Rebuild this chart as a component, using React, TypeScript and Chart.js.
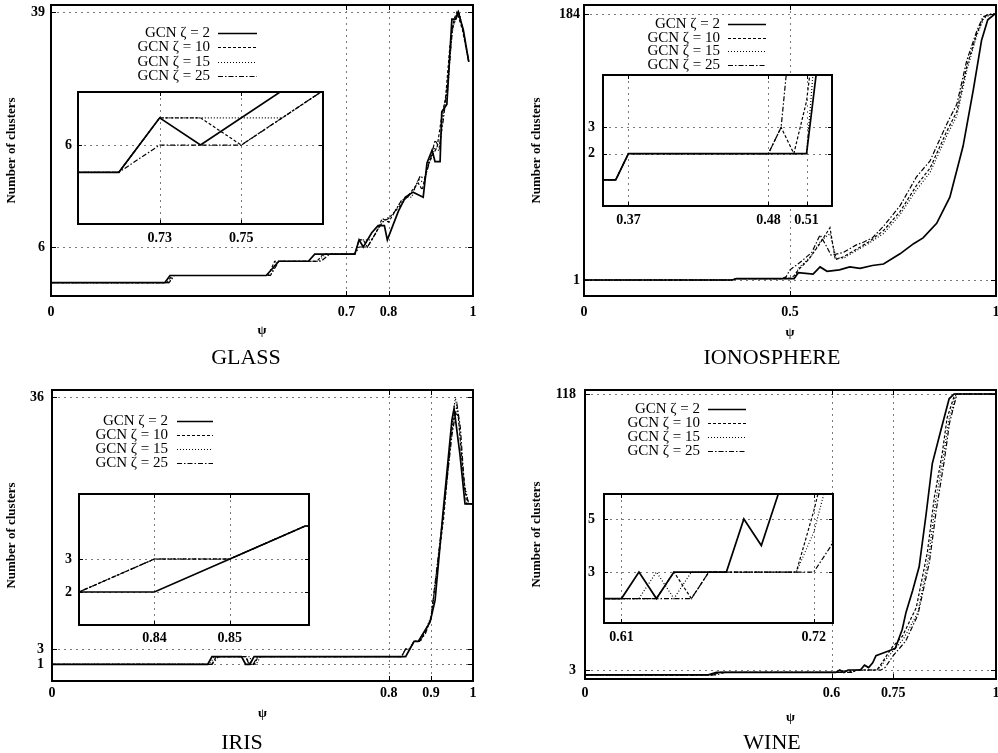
import React, { useEffect, useRef } from "react";
import { Chart, registerables } from "chart.js";

Chart.register(...registerables);

const FONT = '"Liberation Serif", "Times New Roman", Times, serif';
const SERIES_LABELS = ["GCN ζ = 2", "GCN ζ = 10", "GCN ζ = 15", "GCN ζ = 25"];
const DASHES = [[], [3, 2], [1, 2], [5, 2, 1.5, 2]];
const WIDTHS = [1.7, 1.2, 1.2, 1.2];

// ---------- GLASS ----------
const glassX2 = [0, 0.27, 0.282, 0.51, 0.54, 0.61, 0.625, 0.71, 0.72, 0.73, 0.74, 0.76, 0.775, 0.79, 0.797, 0.81, 0.823, 0.84, 0.858, 0.882, 0.891, 0.903, 0.91, 0.922, 0.926, 0.938, 0.95, 0.958, 0.965, 0.977, 0.99];
const glassY2 = [1, 1, 2, 2, 4, 4, 5, 5, 5, 7, 6, 8, 9, 9, 7, 9, 11, 13, 13.7, 13, 17.8, 19.6, 18, 18, 25, 26, 38, 38, 39, 36.5, 32];
const glassX10 = [0, 0.275, 0.287, 0.515, 0.53, 0.63, 0.645, 0.71, 0.72, 0.73, 0.74, 0.75, 0.77, 0.785, 0.8, 0.815, 0.83, 0.85, 0.87, 0.88, 0.89, 0.905, 0.915, 0.925, 0.935, 0.945, 0.955, 0.962, 0.975, 0.99];
const glassY10 = [1, 1, 2, 2, 4, 4, 5, 5, 5, 7, 7, 6, 8, 10, 9.5, 11, 12, 13.5, 15, 14, 17, 19, 20, 24, 27, 34, 38, 39, 36.5, 32];
const glassX15 = [0, 0.28, 0.29, 0.52, 0.535, 0.635, 0.65, 0.71, 0.72, 0.73, 0.76, 0.77, 0.78, 0.795, 0.81, 0.825, 0.84, 0.855, 0.87, 0.885, 0.895, 0.91, 0.92, 0.93, 0.94, 0.95, 0.96, 0.967, 0.978, 0.99];
const glassY15 = [1, 1, 2, 2, 4, 4, 5, 5, 5, 7, 7, 8, 9, 10, 10.5, 12, 13, 13, 15.5, 15, 18, 20, 19.5, 25, 28, 36, 38.5, 39, 36, 32];
const glassX25 = [0, 0.28, 0.292, 0.52, 0.54, 0.64, 0.66, 0.71, 0.72, 0.73, 0.75, 0.77, 0.785, 0.8, 0.815, 0.83, 0.845, 0.86, 0.875, 0.885, 0.9, 0.91, 0.92, 0.93, 0.94, 0.952, 0.96, 0.966, 0.978, 0.99];
const glassY25 = [1, 1, 2, 2, 4, 4, 5, 5, 5, 6, 6, 8, 9.5, 10, 11, 12.5, 13, 14, 16, 15.5, 18.5, 21, 20, 24, 29, 37, 38, 39, 36, 32];

// ---------- IONOSPHERE ----------
const ionX2 = [0, 0.36, 0.37, 0.51, 0.52, 0.556, 0.573, 0.59, 0.62, 0.645, 0.67, 0.7, 0.727, 0.767, 0.8, 0.823, 0.856, 0.888, 0.92, 0.945, 0.965, 0.98, 0.997, 1];
const ionY2 = [1, 1, 2, 2, 6, 5, 10, 7, 8, 10, 9, 11, 12, 19, 26, 30, 40, 58, 93, 132, 166, 180, 184, 184];
const ionX10 = [0, 0.36, 0.37, 0.48, 0.49, 0.5, 0.51, 0.52, 0.545, 0.57, 0.597, 0.61, 0.63, 0.66, 0.69, 0.727, 0.767, 0.807, 0.84, 0.88, 0.905, 0.929, 0.953, 0.97, 0.99, 1];
const ionY10 = [1, 1, 2, 2, 3, 2, 4, 8, 15, 25, 37, 15, 17, 22, 27, 35, 48, 66, 78, 103, 117, 148, 170, 182, 184, 184];
const ionX15 = [0, 0.36, 0.37, 0.51, 0.515, 0.52, 0.55, 0.575, 0.597, 0.612, 0.63, 0.66, 0.69, 0.727, 0.767, 0.807, 0.84, 0.88, 0.905, 0.929, 0.953, 0.97, 0.99, 1];
const ionY15 = [1, 1, 2, 2, 5, 9, 17, 28, 33, 16, 16, 21, 26, 33, 46, 63, 75, 100, 114, 145, 169, 181, 184, 184];
const ionX25 = [0, 0.36, 0.37, 0.48, 0.49, 0.5, 0.524, 0.553, 0.573, 0.585, 0.6, 0.63, 0.66, 0.678, 0.7, 0.727, 0.767, 0.807, 0.84, 0.88, 0.905, 0.929, 0.953, 0.968, 0.985, 1];
const ionY25 = [1, 1, 2, 2, 3, 8, 13, 20, 32, 26, 18, 20, 25, 27, 30, 38, 52, 72, 83, 108, 122, 152, 172, 182, 184, 184];

// ---------- IRIS ----------
const irisX2 = [0, 0.37, 0.38, 0.45, 0.46, 0.47, 0.48, 0.84, 0.85, 0.86, 0.87, 0.879, 0.898, 0.91, 0.929, 0.95, 0.955, 0.969, 0.981, 1];
const irisY2 = [1, 1, 2, 2, 1, 1, 2, 2, 3, 4, 4, 4.8, 6.5, 9.4, 21, 33, 34.5, 28.5, 22, 22];
const irisX10 = [0, 0.38, 0.39, 0.46, 0.47, 0.48, 0.49, 0.83, 0.84, 0.85, 0.86, 0.872, 0.885, 0.9, 0.93, 0.948, 0.957, 0.965, 0.975, 0.985, 1];
const irisY10 = [1, 1, 2, 2, 1, 1, 2, 2, 3, 3, 4, 4, 5, 7, 20, 31, 34, 33.5, 27, 22, 22];
const irisX15 = [0, 0.375, 0.385, 0.47, 0.475, 0.485, 0.495, 0.83, 0.84, 0.85, 0.86, 0.875, 0.888, 0.902, 0.93, 0.95, 0.958, 0.966, 0.978, 0.99, 1];
const irisY15 = [1, 1, 2, 2, 1, 1, 2, 2, 3, 3, 4, 4, 5.5, 7.5, 21, 32, 36, 33, 25, 22, 22];
const irisX25 = [0, 0.38, 0.395, 0.46, 0.468, 0.478, 0.488, 0.83, 0.84, 0.85, 0.86, 0.873, 0.887, 0.9, 0.93, 0.95, 0.962, 0.97, 0.98, 0.99, 1];
const irisY25 = [1, 1, 2, 2, 1, 1, 2, 2, 3, 3, 4, 4, 5, 7, 21, 31, 35, 32, 24, 22, 22];

// ---------- WINE ----------
const wineX2 = [0, 0.3, 0.32, 0.61, 0.62, 0.63, 0.64, 0.67, 0.68, 0.69, 0.7, 0.708, 0.74, 0.755, 0.772, 0.781, 0.797, 0.813, 0.83, 0.845, 0.866, 0.886, 0.898, 1];
const wineY2 = [1, 1, 2, 2, 3, 2, 3, 3, 5, 4, 6, 9, 11, 12, 20, 27, 36, 46, 68, 89, 103, 116, 118, 118];
const wineX10 = [0, 0.31, 0.33, 0.62, 0.63, 0.64, 0.65, 0.66, 0.71, 0.72, 0.73, 0.748, 0.772, 0.806, 0.833, 0.85, 0.869, 0.881, 0.9, 1];
const wineY10 = [1, 1, 2, 2, 2, 3, 2, 3, 3, 5.3, 8, 12.6, 17, 29, 52, 75, 93, 108, 118, 118];
const wineX15 = [0, 0.31, 0.33, 0.62, 0.63, 0.64, 0.65, 0.71, 0.72, 0.73, 0.75, 0.775, 0.81, 0.836, 0.853, 0.872, 0.885, 0.903, 1];
const wineY15 = [1, 1, 2, 2, 3, 2, 3, 3, 4.5, 7, 11, 16, 27, 50, 73, 92, 107, 118, 118];
const wineX25 = [0, 0.32, 0.34, 0.65, 0.66, 0.72, 0.73, 0.75, 0.78, 0.81, 0.838, 0.855, 0.874, 0.887, 0.905, 1];
const wineY25 = [1, 1, 2, 2, 3, 3, 4, 9, 15, 26, 48, 70, 90, 106, 118, 118];

// ---------- ticks ----------
const glassXTicks = [0, 0.7, 0.8, 1];
const glassYTicks = [6, 39];
const glassInsetXTicks = [0.73, 0.75];
const glassInsetYTicks = [6];
const ionXTicks = [0, 0.5, 1];
const ionYTicks = [1, 184];
const ionInsetXTicks = [0.37, 0.48, 0.51];
const ionInsetYTicks = [2, 3];
const irisXTicks = [0, 0.8, 0.9, 1];
const irisYTicks = [1, 3, 36];
const irisInsetXTicks = [0.84, 0.85];
const irisInsetYTicks = [2, 3];
const wineXTicks = [0, 0.6, 0.75, 1];
const wineYTicks = [3, 118];
const wineInsetXTicks = [0.61, 0.72];
const wineInsetYTicks = [3, 5];

const GLASS_X = [glassX2, glassX10, glassX15, glassX25];
const GLASS_Y = [glassY2, glassY10, glassY15, glassY25];
const ION_X = [ionX2, ionX10, ionX15, ionX25];
const ION_Y = [ionY2, ionY10, ionY15, ionY25];
const IRIS_X = [irisX2, irisX10, irisX15, irisX25];
const IRIS_Y = [irisY2, irisY10, irisY15, irisY25];
const WINE_X = [wineX2, wineX10, wineX15, wineX25];
const WINE_Y = [wineY2, wineY10, wineY15, wineY25];

type Rect = { x: number; y: number; w: number; h: number };
type Area = { l: number; t: number; r: number; b: number };
type Legend = { right: number; top: number; dy: number; gap: number; len: number };
type Spec = {
  R: Rect;
  A: Area;
  xRange: [number, number];
  yRange: [number, number];
  xTicks: number[];
  yTicks: number[];
  xs: number[][];
  ys: number[][];
  yPad: number;
  xPad: number;
  yTitlePad?: number;
  xTitlePad?: number;
  legend?: Legend;
  fill?: boolean;
  tickLen: number;
};

function makePlugin(s: Spec) {
  return {
    id: "gnu",
    beforeDraw(chart: any) {
      if (!s.fill) return;
      const { ctx, chartArea: a } = chart;
      ctx.save();
      ctx.fillStyle = "#fff";
      ctx.fillRect(a.left, a.top, a.right - a.left, a.bottom - a.top);
      ctx.restore();
    },
    beforeDatasetsDraw(chart: any) {
      const { ctx, chartArea: a, scales } = chart;
      const x = scales.x;
      const y = scales.y;
      ctx.save();
      ctx.strokeStyle = "#7a7a7a";
      ctx.lineWidth = 1;
      ctx.setLineDash([2, 4]);
      ctx.beginPath();
      for (const v of s.xTicks) {
        if (v <= x.min || v >= x.max) continue;
        const p = Math.round(x.getPixelForValue(v)) + 0.5;
        ctx.moveTo(p, a.top);
        ctx.lineTo(p, a.bottom);
      }
      for (const v of s.yTicks) {
        if (v <= y.min || v >= y.max) continue;
        const p = Math.round(y.getPixelForValue(v)) + 0.5;
        ctx.moveTo(a.left, p);
        ctx.lineTo(a.right, p);
      }
      ctx.stroke();
      ctx.restore();
    },
    afterDatasetsDraw(chart: any) {
      const { ctx, chartArea: a, scales } = chart;
      const x = scales.x;
      const y = scales.y;
      ctx.save();
      ctx.setLineDash([]);
      ctx.strokeStyle = "#000";
      ctx.lineWidth = 1;
      ctx.beginPath();
      const L = s.tickLen;
      for (const v of s.xTicks) {
        if (v <= x.min || v >= x.max) continue;
        const p = Math.round(x.getPixelForValue(v)) + 0.5;
        ctx.moveTo(p, a.bottom);
        ctx.lineTo(p, a.bottom - L);
        ctx.moveTo(p, a.top);
        ctx.lineTo(p, a.top + L);
      }
      for (const v of s.yTicks) {
        if (v <= y.min || v >= y.max) continue;
        const p = Math.round(y.getPixelForValue(v)) + 0.5;
        ctx.moveTo(a.left, p);
        ctx.lineTo(a.left + L, p);
        ctx.moveTo(a.right, p);
        ctx.lineTo(a.right - L, p);
      }
      ctx.stroke();
      ctx.lineWidth = 2;
      ctx.strokeRect(a.left, a.top, a.right - a.left, a.bottom - a.top);
      if (s.legend) {
        const lg = s.legend;
        const ox = s.R.x;
        const oy = s.R.y;
        ctx.font = `15px ${FONT}`;
        ctx.fillStyle = "#000";
        ctx.textAlign = "right";
        ctx.textBaseline = "middle";
        chart.data.datasets.forEach((ds: any, i: number) => {
          const yy = lg.top + i * lg.dy - oy;
          ctx.fillText(ds.label, lg.right - ox, yy);
          ctx.save();
          ctx.setLineDash(ds.borderDash || []);
          ctx.lineWidth = ds.borderWidth;
          ctx.beginPath();
          ctx.moveTo(lg.right - ox + lg.gap, Math.round(yy) + 0.5);
          ctx.lineTo(lg.right - ox + lg.gap + lg.len, Math.round(yy) + 0.5);
          ctx.stroke();
          ctx.restore();
        });
      }
      ctx.restore();
    },
  };
}

function buildConfig(s: Spec): any {
  const yW = s.A.l - s.R.x;
  const xH = s.R.y + s.R.h - s.A.b;
  const tickFont = { family: FONT, size: 14, weight: "bold" };
  return {
    type: "line",
    data: {
      datasets: s.xs.map((xs, i) => ({
        label: SERIES_LABELS[i],
        data: xs.map((xv, j) => ({ x: xv, y: s.ys[i][j] })),
        borderColor: "#000",
        borderWidth: WIDTHS[i],
        borderDash: DASHES[i],
        pointRadius: 0,
        tension: 0,
        fill: false,
        clip: 0,
      })),
    },
    options: {
      responsive: false,
      animation: false,
      devicePixelRatio: 1,
      events: [],
      layout: {
        padding: { left: 0, bottom: 0, top: s.A.t - s.R.y, right: s.R.x + s.R.w - s.A.r },
      },
      plugins: { legend: { display: false }, tooltip: { enabled: false }, title: { display: false } },
      scales: {
        x: {
          type: "linear",
          bounds: "data",
          min: s.xRange[0],
          max: s.xRange[1],
          afterBuildTicks: (sc: any) => {
            sc.ticks = s.xTicks.map((v) => ({ value: v }));
          },
          afterFit: (sc: any) => {
            sc.height = xH;
            sc.paddingLeft = 0;
            sc.paddingRight = 0;
          },
          grid: { display: false, drawTicks: false },
          border: { display: false },
          ticks: {
            padding: s.xPad,
            font: tickFont,
            color: "#000",
            maxRotation: 0,
            autoSkip: false,
            callback: (v: any) => String(v),
          },
          title: {
            display: s.xTitlePad !== undefined,
            text: "ψ",
            color: "#000",
            font: { family: FONT, size: 13, weight: "bold" },
            padding: { top: 0, bottom: s.xTitlePad ?? 0 },
          },
        },
        y: {
          type: "linear",
          bounds: "data",
          min: s.yRange[0],
          max: s.yRange[1],
          afterBuildTicks: (sc: any) => {
            sc.ticks = s.yTicks.map((v) => ({ value: v }));
          },
          afterFit: (sc: any) => {
            sc.width = yW;
            sc.paddingTop = 0;
            sc.paddingBottom = 0;
          },
          grid: { display: false, drawTicks: false },
          border: { display: false },
          ticks: {
            padding: s.yPad,
            font: tickFont,
            color: "#000",
            autoSkip: false,
            callback: (v: any) => String(v),
          },
          title: {
            display: s.yTitlePad !== undefined,
            text: "Number of clusters",
            color: "#000",
            font: { family: FONT, size: 13, weight: "bold" },
            padding: { top: s.yTitlePad ?? 0, bottom: 0 },
          },
        },
      },
    },
    plugins: [makePlugin(s)],
  };
}

const SPECS: Spec[] = [
  {
    R: { x: 0, y: 0, w: 490, h: 365 }, A: { l: 51, t: 5, r: 473, b: 296 },
    xRange: [0, 1], yRange: [-0.88, 39.98], xTicks: glassXTicks, yTicks: glassYTicks,
    xs: GLASS_X, ys: GLASS_Y, yPad: 6, xPad: 8, yTitlePad: 4, xTitlePad: 27, tickLen: 5,
    legend: { right: 210, top: 33, dy: 14.3, gap: 8, len: 39 },
  },
  {
    R: { x: 500, y: 0, w: 498, h: 365 }, A: { l: 584, t: 5, r: 996, b: 296 },
    xRange: [0, 1], yRange: [-10, 190.2], xTicks: ionXTicks, yTicks: ionYTicks,
    xs: ION_X, ys: ION_Y, yPad: 4, xPad: 8, yTitlePad: 29, xTitlePad: 25, tickLen: 5,
    legend: { right: 720, top: 24, dy: 13.7, gap: 8, len: 38 },
  },
  {
    R: { x: 0, y: 375, w: 490, h: 378 }, A: { l: 52, t: 390, r: 473, b: 681 },
    xRange: [0, 1], yRange: [-1.19, 36.92], xTicks: irisXTicks, yTicks: irisYTicks,
    xs: IRIS_X, ys: IRIS_Y, yPad: 8, xPad: 4, yTitlePad: 4, xTitlePad: 32, tickLen: 5,
    legend: { right: 168, top: 421, dy: 14, gap: 9, len: 36 },
  },
  {
    R: { x: 500, y: 375, w: 498, h: 378 }, A: { l: 585, t: 390, r: 996, b: 679 },
    xRange: [0, 1], yRange: [-0.75, 119.67], xTicks: wineXTicks, yTicks: wineYTicks,
    xs: WINE_X, ys: WINE_Y, yPad: 9, xPad: 6, yTitlePad: 29, xTitlePad: 28, tickLen: 5,
    legend: { right: 700, top: 409, dy: 14, gap: 8, len: 38 },
  },
  {
    R: { x: 40, y: 85, w: 295, h: 165 }, A: { l: 78, t: 92, r: 323, b: 224 },
    xRange: [0.71, 0.77], yRange: [3.1, 7.95], xTicks: glassInsetXTicks, yTicks: glassInsetYTicks,
    xs: GLASS_X, ys: GLASS_Y, yPad: 6, xPad: 6, fill: true, tickLen: 4,
  },
  {
    R: { x: 570, y: 68, w: 272, h: 165 }, A: { l: 603, t: 75, r: 832, b: 206 },
    xRange: [0.35, 0.53], yRange: [0, 5], xTicks: ionInsetXTicks, yTicks: ionInsetYTicks,
    xs: ION_X, ys: ION_Y, yPad: 8, xPad: 6, fill: true, tickLen: 4,
  },
  {
    R: { x: 45, y: 487, w: 275, h: 165 }, A: { l: 79, t: 494, r: 309, b: 625 },
    xRange: [0.83, 0.8605], yRange: [1, 4.97], xTicks: irisInsetXTicks, yTicks: irisInsetYTicks,
    xs: IRIS_X, ys: IRIS_Y, yPad: 7, xPad: 5, fill: true, tickLen: 4,
  },
  {
    R: { x: 570, y: 487, w: 272, h: 160 }, A: { l: 604, t: 494, r: 833, b: 623 },
    xRange: [0.6, 0.731], yRange: [1.08, 5.94], xTicks: wineInsetXTicks, yTicks: wineInsetYTicks,
    xs: WINE_X, ys: WINE_Y, yPad: 9, xPad: 6, fill: true, tickLen: 4,
  },
];

const TITLES = [
  { text: "GLASS", x: 246, y: 357 },
  { text: "IONOSPHERE", x: 772, y: 357 },
  { text: "IRIS", x: 242, y: 742 },
  { text: "WINE", x: 772, y: 742 },
];

function Panel({ spec }: { spec: Spec }) {
  const ref = useRef<HTMLCanvasElement | null>(null);
  useEffect(() => {
    const c = ref.current;
    if (!c) return;
    const chart = new Chart(c, buildConfig(spec));
    return () => chart.destroy();
  }, [spec]);
  return (
    <canvas
      ref={ref}
      width={spec.R.w}
      height={spec.R.h}
      style={{ position: "absolute", left: spec.R.x, top: spec.R.y, width: spec.R.w, height: spec.R.h, display: "block" }}
    />
  );
}

export default function App() {
  return (
    <div style={{ position: "absolute", left: 0, top: 0, width: 998, height: 753, background: "#fff", overflow: "hidden" }}>
      {SPECS.map((s, i) => (
        <Panel key={i} spec={s} />
      ))}
      {TITLES.map((t) => (
        <div
          key={t.text}
          style={{
            position: "absolute",
            left: t.x,
            top: t.y,
            transform: "translate(-50%, -50%)",
            fontFamily: FONT,
            fontSize: 22,
            lineHeight: 1,
            whiteSpace: "nowrap",
            color: "#000",
          }}
        >
          {t.text}
        </div>
      ))}
    </div>
  );
}
